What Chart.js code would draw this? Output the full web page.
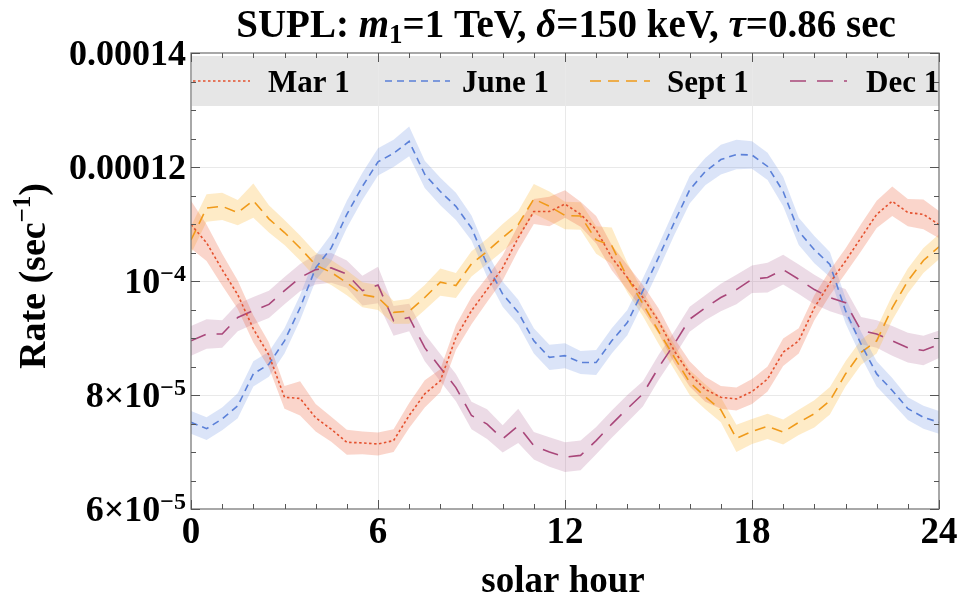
<!DOCTYPE html>
<html>
<head>
<meta charset="utf-8">
<script src="https://cdn.jsdelivr.net/npm/chart.js@4.4.1/dist/chart.umd.min.js"></script>
<style>
html,body{margin:0;padding:0;background:#fff;}
#wrap{width:958px;height:596px;}
</style>
</head>
<body>
<div id="wrap"><canvas id="c" width="958" height="596"></canvas></div>
<script>
// x: solar hour
const hours = [0,0.5,1,1.5,2,2.5,3,3.5,4,4.5,5,5.5,6,6.5,7,7.5,8,8.5,9,9.5,10,10.5,11,11.5,12,
  12.5,13,13.5,14,14.5,15,15.5,16,16.5,17,17.5,18,18.5,19,19.5,20,20.5,21,21.5,22,22.5,23,23.5,24];

// Rate in units of 1e-5 sec^-1
const mar1 = [10.99,10.67,10.20,9.76,9.16,8.70,7.96,7.94,7.60,7.40,7.17,7.16,7.14,
  7.20,7.64,8.02,8.25,9.01,9.48,9.85,10.23,10.76,11.22,11.22,11.35,
  11.17,10.90,10.41,10.06,9.71,9.30,8.78,8.37,8.10,7.96,7.93,8.06,
  8.28,8.75,8.95,9.53,9.97,10.35,10.76,11.17,11.40,11.20,11.17,10.99];
const june1 = [7.52,7.41,7.58,7.81,8.37,8.54,8.95,9.53,10.23,10.58,11.17,11.66,12.09,
  12.24,12.45,11.87,11.57,11.31,10.93,10.29,9.77,9.45,8.95,8.66,8.69,
  8.57,8.57,8.95,9.27,9.83,10.41,11.02,11.60,11.92,12.13,12.22,12.21,
  12.01,11.57,10.87,10.55,10.29,9.48,8.89,8.37,8.08,7.76,7.61,7.52];
const sept1 = [10.72,11.28,11.31,11.20,11.41,11.09,10.85,10.58,10.28,10.15,9.97,9.76,9.71,
  9.45,9.47,9.71,9.98,9.92,10.30,10.52,10.76,10.99,11.44,11.31,11.15,
  11.14,10.72,10.62,10.06,9.60,9.12,8.67,8.22,7.97,7.74,7.24,7.36,
  7.45,7.35,7.52,7.67,7.90,8.37,8.75,8.95,9.53,10.00,10.36,10.60];
const dec1 = [8.95,9.07,9.07,9.36,9.48,9.59,9.83,10.06,10.20,10.23,10.12,9.83,9.93,
  9.30,9.36,8.83,8.48,8.13,7.64,7.49,7.23,7.46,7.11,7.00,6.91,
  6.94,7.20,7.49,7.76,8.02,8.48,8.89,9.33,9.53,9.71,9.85,10.03,
  10.06,10.20,10.03,9.85,9.71,9.62,9.13,9.07,8.95,8.83,8.78,8.89];

// half-width of the shaded uncertainty bands (same units)
const mar1Err = [0.42,0.32,0.28,0.25,0.24,0.22,0.20,0.30,0.24,0.22,0.22,0.20,0.20,
  0.20,0.22,0.24,0.20,0.22,0.24,0.22,0.22,0.22,0.22,0.26,0.24,
  0.22,0.24,0.22,0.22,0.22,0.22,0.22,0.22,0.22,0.20,0.20,0.22,
  0.22,0.24,0.22,0.22,0.22,0.22,0.24,0.24,0.26,0.24,0.26,0.24];
const june1Err = [0.20,0.20,0.20,0.22,0.22,0.22,0.22,0.22,0.22,0.24,0.24,0.24,0.24,
  0.24,0.26,0.24,0.24,0.24,0.22,0.22,0.22,0.22,0.22,0.22,0.22,
  0.20,0.22,0.22,0.22,0.22,0.22,0.22,0.24,0.24,0.26,0.26,0.24,
  0.24,0.26,0.24,0.24,0.22,0.22,0.22,0.22,0.22,0.20,0.20,0.20];
const sept1Err = [0.24,0.24,0.24,0.22,0.30,0.24,0.22,0.22,0.22,0.22,0.22,0.22,0.22,
  0.20,0.22,0.22,0.24,0.22,0.22,0.22,0.24,0.24,0.26,0.26,0.24,
  0.24,0.24,0.32,0.26,0.22,0.22,0.22,0.22,0.22,0.22,0.24,0.22,
  0.22,0.22,0.22,0.24,0.24,0.22,0.22,0.22,0.22,0.22,0.22,0.22];
const dec1Err = [0.26,0.26,0.24,0.24,0.24,0.24,0.24,0.24,0.26,0.26,0.24,0.26,0.32,
  0.26,0.24,0.24,0.24,0.24,0.24,0.26,0.24,0.30,0.24,0.26,0.26,
  0.26,0.24,0.24,0.24,0.22,0.22,0.22,0.22,0.22,0.24,0.26,0.24,
  0.26,0.26,0.26,0.26,0.24,0.24,0.24,0.24,0.26,0.26,0.26,0.24];

const seriesNames = ['Mar 1','June 1','Sept 1','Dec 1'];
const xTickValues = [0,6,12,18,24];
const xTickLabels = ['0','6','12','18','24'];
const yTickValues = [6,8,10,12,14];
const yTickBase = ['6×10','8×10','10','0.00012','0.00014'];
const yTickExp = ['−5','−5','−4','',''];

const styles = [
  {line:'#e4512e', band:'rgba(236,104,70,0.28)', dash:[2.5,2.5]},
  {line:'#5b80d8', band:'rgba(112,148,228,0.25)', dash:[7,5]},
  {line:'#f09a1a', band:'rgba(252,190,70,0.30)', dash:[11,7]},
  {line:'#a9477a', band:'rgba(170,90,140,0.22)', dash:[16,11]}
];
const allSeries = [mar1, june1, sept1, dec1];
const allErr = [mar1Err, june1Err, sept1Err, dec1Err];

const datasets = [];
allSeries.forEach((vals, s) => {
  const err = allErr[s];
  const st = styles[s];
  datasets.push({
    label: seriesNames[s] + ' upper',
    data: hours.map((h,i)=>({x:h, y:vals[i]+err[i]})),
    borderWidth:0, pointRadius:0, fill:false, order: 10
  });
  datasets.push({
    label: seriesNames[s] + ' lower',
    data: hours.map((h,i)=>({x:h, y:vals[i]-err[i]})),
    borderWidth:0, pointRadius:0, fill:'-1', backgroundColor: st.band, order: 10
  });
});
allSeries.forEach((vals, s) => {
  const st = styles[s];
  datasets.push({
    label: seriesNames[s],
    data: hours.map((h,i)=>({x:h, y:vals[i]})),
    borderColor: st.line, borderWidth:1.6, borderDash: st.dash,
    pointRadius:0, fill:false, tension:0, order: 1
  });
});

const SERIF = '"Liberation Serif","DejaVu Serif",serif';

function drawRuns(ctx, runs, x, y, align) {
  let w = 0;
  runs.forEach(r => { ctx.font = r.font; w += ctx.measureText(r.t).width; });
  let cx = align === 'right' ? x - w : (align === 'center' ? x - w/2 : x);
  ctx.textAlign = 'left';
  ctx.textBaseline = 'alphabetic';
  runs.forEach(r => {
    ctx.font = r.font;
    ctx.fillText(r.t, cx, y + (r.dy||0));
    cx += ctx.measureText(r.t).width;
  });
  return w;
}

const decor = {
  id:'decor',
  beforeDraw(chart){
    const ctx = chart.ctx, a = chart.chartArea;
    ctx.save();
    ctx.fillStyle = '#fff';
    ctx.fillRect(0,0,chart.width,chart.height);
    ctx.fillStyle = '#e6e6e6';
    ctx.fillRect(a.left+1, a.top+3, a.right-a.left-1, 50);
    ctx.restore();
  },
  afterDraw(chart){
    const ctx = chart.ctx, a = chart.chartArea;
    const xs = chart.scales.x, ys = chart.scales.y;
    ctx.save();
    // frame
    ctx.strokeStyle = '#7a7a7a';
    ctx.lineWidth = 1.3;
    ctx.strokeRect(a.left, a.top, a.right-a.left, a.bottom-a.top);
    // ticks
    ctx.strokeStyle = '#555';
    ctx.lineWidth = 1;
    for (let v = 6; v <= 14.0001; v += 0.5) {
      const y = Math.round(ys.getPixelForValue(v)) + 0.5;
      const major = Math.abs(v - Math.round(v/2)*2) < 1e-6;
      const len = major ? 9 : 5;
      ctx.beginPath();
      ctx.moveTo(a.left, y); ctx.lineTo(a.left+len, y);
      ctx.moveTo(a.right, y); ctx.lineTo(a.right-len, y);
      ctx.stroke();
    }
    for (let h = 0; h <= 24; h += 1) {
      const x = Math.round(xs.getPixelForValue(h)) + 0.5;
      const len = (h % 6 === 0) ? 9 : 5;
      ctx.beginPath();
      ctx.moveTo(x, a.bottom); ctx.lineTo(x, a.bottom-len);
      ctx.moveTo(x, a.top); ctx.lineTo(x, a.top+len);
      ctx.stroke();
    }
    ctx.fillStyle = '#000';
    // y tick labels
    const F = 'bold 37px ' + SERIF, FY = 'bold 36px ' + SERIF, FS = 'bold 24px ' + SERIF;
    yTickValues.forEach((v,i) => {
      const y = ys.getPixelForValue(v) + 12;
      const runs = [{t:yTickBase[i], font:FY}];
      if (yTickExp[i]) runs.push({t:yTickExp[i], font:FS, dy:-12});
      drawRuns(ctx, runs, a.left - 5, y, 'right');
    });
    // x tick labels
    xTickValues.forEach((v,i) => {
      drawRuns(ctx, [{t:xTickLabels[i], font:F}], xs.getPixelForValue(v), 543, 'center');
    });
    // x title
    drawRuns(ctx, [{t:'solar hour', font:'bold 37px '+SERIF}], (a.left+a.right)/2 - 2, 592, 'center');
    // y title
    ctx.save();
    ctx.translate(45, 276);
    ctx.rotate(-Math.PI/2);
    drawRuns(ctx, [{t:'Rate (sec', font:'bold 38px '+SERIF},{t:'−1', font:'bold 25px '+SERIF, dy:-15},{t:')', font:'bold 38px '+SERIF}], 0, 0, 'center');
    ctx.restore();
    // title
    const TF = 'bold 39px ' + SERIF, TI = 'italic bold 39px ' + SERIF, TSub = 'bold 27px ' + SERIF;
    drawRuns(ctx, [
      {t:'SUPL: ', font:TF},{t:'m', font:TI},{t:'1', font:TSub, dy:6},{t:'=1 TeV, ', font:TF},
      {t:'δ', font:TI},{t:'=150 keV, ', font:TF},{t:'τ', font:TI},{t:'=0.86 sec', font:TF}
    ], 566, 37, 'center');
    // legend
    const LF = 'bold 31px ' + SERIF;
    const legendPos = [[193,250,268],[385,450,462],[590,650,667],[790,847,866]];
    legendPos.forEach((p,s) => {
      ctx.save();
      ctx.strokeStyle = styles[s].line;
      ctx.lineWidth = 1.6;
      ctx.setLineDash(styles[s].dash);
      ctx.beginPath();
      ctx.moveTo(p[0], 81); ctx.lineTo(p[1], 81);
      ctx.stroke();
      ctx.restore();
      drawRuns(ctx, [{t:seriesNames[s], font:LF}], p[2], 92, 'left');
    });
    ctx.restore();
  }
};

new Chart(document.getElementById('c'), {
  type:'line',
  data:{datasets},
  options:{
    responsive:false,
    animation:false,
    devicePixelRatio:1,
    layout:{padding:{top:53, right:19, left:0, bottom:0}},
    plugins:{legend:{display:false}, title:{display:false}, tooltip:{enabled:false}, filler:{propagate:false}},
    scales:{
      x:{type:'linear', min:0, max:24,
        ticks:{stepSize:6, display:false},
        grid:{drawTicks:false, lineWidth:1,
          color:(c)=> (c.tick && c.tick.value>0 && c.tick.value<24) ? '#e9e9e9' : 'rgba(0,0,0,0)'},
        border:{display:false},
        afterFit:(s)=>{ s.height = 87; }
      },
      y:{type:'linear', min:6, max:14,
        ticks:{stepSize:2, display:false},
        grid:{drawTicks:false, lineWidth:1,
          color:(c)=> (c.tick && c.tick.value>6 && c.tick.value<14) ? '#e9e9e9' : 'rgba(0,0,0,0)'},
        border:{display:false},
        afterFit:(s)=>{ s.width = 191; }
      }
    }
  },
  plugins:[decor]
});
</script>
</body>
</html>
